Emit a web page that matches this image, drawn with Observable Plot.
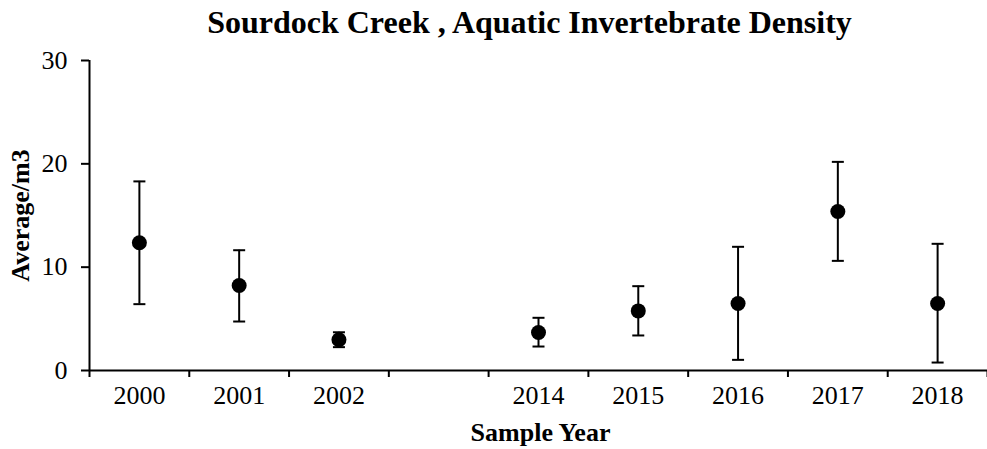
<!DOCTYPE html>
<html>
<head>
<meta charset="utf-8">
<script src="https://cdn.jsdelivr.net/npm/d3@7"></script>
<script src="https://cdn.jsdelivr.net/npm/@observablehq/plot@0.6"></script>
<style>
  html, body { margin: 0; padding: 0; background: #fff; overflow: hidden; }
  #title {
    width: 987px; height: 45px; line-height: 45px;
    font-family: "Liberation Serif", "Times New Roman", serif;
    font-weight: bold; font-size: 32px; color: #000;
    text-align: center; padding-left: 72px; box-sizing: border-box;
    white-space: nowrap;
  }
</style>
</head>
<body>
<div id="title">Sourdock Creek , Aquatic Invertebrate Density</div>
<div id="chart"></div>
<script>
// Category slots along the x axis (the empty slot is the gap between 2002 and 2014)
const slots = ["2000", "2001", "2002", "", "2014", "2015", "2016", "2017", "2018"];
// Sample years with data
const years = ["2000", "2001", "2002", "2014", "2015", "2016", "2017", "2018"];
// Average density per m3
const means = [12.36, 8.23, 2.97, 3.68, 5.77, 6.48, 15.39, 6.48];
// Error bar upper and lower ends
const upper = [18.30, 11.64, 3.70, 5.10, 8.16, 11.97, 20.19, 12.26];
const lower = [6.42, 4.74, 2.26, 2.32, 3.39, 1.03, 10.61, 0.77];
// Y tick values
const yTicks = [0, 10, 20, 30];

const yLabel = "Average/m3";
const xLabel = "Sample Year";

const data = years.map((yr, i) => ({
  year: yr,
  slot: slots.indexOf(yr) + 0.5,
  mean: means[i],
  upper: upper[i],
  lower: lower[i]
}));
const slotLabels = slots.map((s, i) => ({label: s, slot: i + 0.5})).filter(d => d.label !== "");

const cap = {
  draw(context) {
    context.moveTo(-6, 0);
    context.lineTo(6, 0);
  }
};

const chart = Plot.plot({
  width: 987,
  height: 404,
  marginLeft: 89,
  marginRight: 0,
  marginTop: 15,
  marginBottom: 79,
  style: {fontFamily: "Liberation Serif, Times New Roman, serif", color: "#000", background: "#fff"},
  x: {type: "linear", domain: [0, slots.length]},
  y: {domain: [0, 30]},
  marks: [
    Plot.axisY({ticks: yTicks, tickSize: 8, tickPadding: 14, fontSize: 26, strokeWidth: 2, label: null}),
    Plot.axisX({ticks: d3.range(0, slots.length + 1), tickSize: 7, strokeWidth: 2, tickFormat: () => "", label: null}),
    Plot.ruleY([0], {strokeWidth: 2}),
    Plot.ruleX([0], {y1: 0, y2: 30, strokeWidth: 2}),
    Plot.text(slotLabels, {x: "slot", text: "label", frameAnchor: "bottom", lineAnchor: "bottom", dy: 33, fontSize: 26}),
    Plot.text([xLabel], {frameAnchor: "bottom", lineAnchor: "bottom", dy: 70, dx: 2, fontSize: 26, fontWeight: "bold"}),
    Plot.text([yLabel], {frameAnchor: "left", textAnchor: "middle", dx: -69, rotate: -90, lineAnchor: "middle", fontSize: 26, fontWeight: "bold"}),
    Plot.ruleX(data, {x: "slot", y1: "lower", y2: "upper", strokeWidth: 2}),
    Plot.dot(data, {x: "slot", y: "upper", symbol: cap, stroke: "#000", strokeWidth: 2, fill: "none"}),
    Plot.dot(data, {x: "slot", y: "lower", symbol: cap, stroke: "#000", strokeWidth: 2, fill: "none"}),
    Plot.dot(data, {x: "slot", y: "mean", r: 7.5, fill: "#000", stroke: "none"})
  ]
});
document.getElementById("chart").appendChild(chart);
</script>
</body>
</html>
